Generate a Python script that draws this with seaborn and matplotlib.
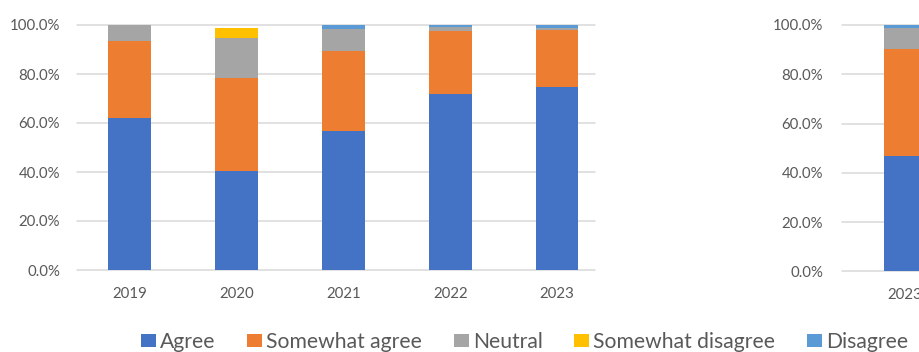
import matplotlib
matplotlib.use("Agg")
import matplotlib.pyplot as plt
from matplotlib.patches import Patch
from matplotlib.ticker import PercentFormatter, MultipleLocator
import seaborn as sns

# ---------------- data ----------------
years = ["2019", "2020", "2021", "2022", "2023"]
agree = [62.0, 40.4, 56.7, 71.8, 74.8]
somewhat_agree = [31.6, 38.0, 32.7, 25.9, 23.3]
neutral = [6.4, 16.2, 9.1, 1.3, 0.7]
somewhat_disagree = [0.0, 4.2, 0.0, 0.0, 0.0]
disagree = [0.0, 0.0, 1.5, 1.0, 1.2]

# second (cropped) chart
years2 = ["2023"]
agree2 = [46.9]
somewhat_agree2 = [43.5]
neutral2 = [8.5]
somewhat_disagree2 = [0.0]
disagree2 = [1.1]

categories = ["Agree", "Somewhat agree", "Neutral", "Somewhat disagree", "Disagree"]
colors = ["#4472C4", "#ED7D31", "#A5A5A5", "#FFC000", "#5B9BD5"]

# ---------------- style ----------------
sns.set_theme(style="white")
plt.rcParams["font.family"] = ["Lato", "DejaVu Sans"]
TEXT = "#595959"
GRID = "#D9D9D9"


def stacked(ax, cats, series, width):
    cum = []
    run = [0.0] * len(cats)
    for s in series:
        run = [r + v for r, v in zip(run, s)]
        cum.append(list(run))
    # draw from top layer down so lower layers cover upper ones
    for vals, col in reversed(list(zip(cum, colors))):
        sns.barplot(x=cats, y=vals, color=col, saturation=1, width=width,
                    linewidth=0, ax=ax)


def style_axes(ax, ypad):
    ax.set_ylim(0, 100)
    ax.yaxis.set_major_locator(MultipleLocator(20))
    ax.yaxis.set_major_formatter(PercentFormatter(100, decimals=1))
    ax.set_xlabel("")
    ax.set_ylabel("")
    for sp in ax.spines.values():
        sp.set_visible(False)
    ax.set_axisbelow(True)
    ax.grid(axis="y", color=GRID, linewidth=1.1)
    ax.grid(axis="x", visible=False)
    for ln in ax.get_ygridlines():
        ln.set_clip_on(False)
    ax.tick_params(axis="y", length=0, pad=ypad, labelsize=10.8, labelcolor=TEXT)
    ax.tick_params(axis="x", length=0, pad=12, labelsize=10.8, labelcolor=TEXT)
    ax.set_facecolor("white")


fig = plt.figure(figsize=(9.2, 3.52), dpi=100)
fig.patch.set_facecolor("white")

ax1 = fig.add_axes([77 / 920, 82 / 352, 518 / 920, 245 / 352])
stacked(ax1, years, [agree, somewhat_agree, neutral, somewhat_disagree, disagree], 0.40)
style_axes(ax1, 12.2)
ax1.set_xlim(-0.491, 4.355)

ax2 = fig.add_axes([842 / 920, (352 - 271.3) / 352, 518 / 920, 246.3 / 352])
stacked(ax2, years2, [agree2, somewhat_agree2, neutral2, somewhat_disagree2, disagree2], 0.40)
style_axes(ax2, 13.7)
ax2.set_xlim(-0.591, 4.25)

handles = [Patch(facecolor=c, edgecolor="none", label=l) for c, l in zip(colors, categories)]
leg = fig.legend(handles=handles, loc="center left",
                 bbox_to_anchor=(141 / 920, 1 - 342 / 352), ncol=5, frameon=False,
                 fontsize=15.2, handlelength=0.72, handleheight=0.58,
                 handletextpad=0.18, columnspacing=1.5, borderpad=0, borderaxespad=0)
for t in leg.get_texts():
    t.set_color(TEXT)

fig.savefig("out.png", dpi=100, facecolor="white")
